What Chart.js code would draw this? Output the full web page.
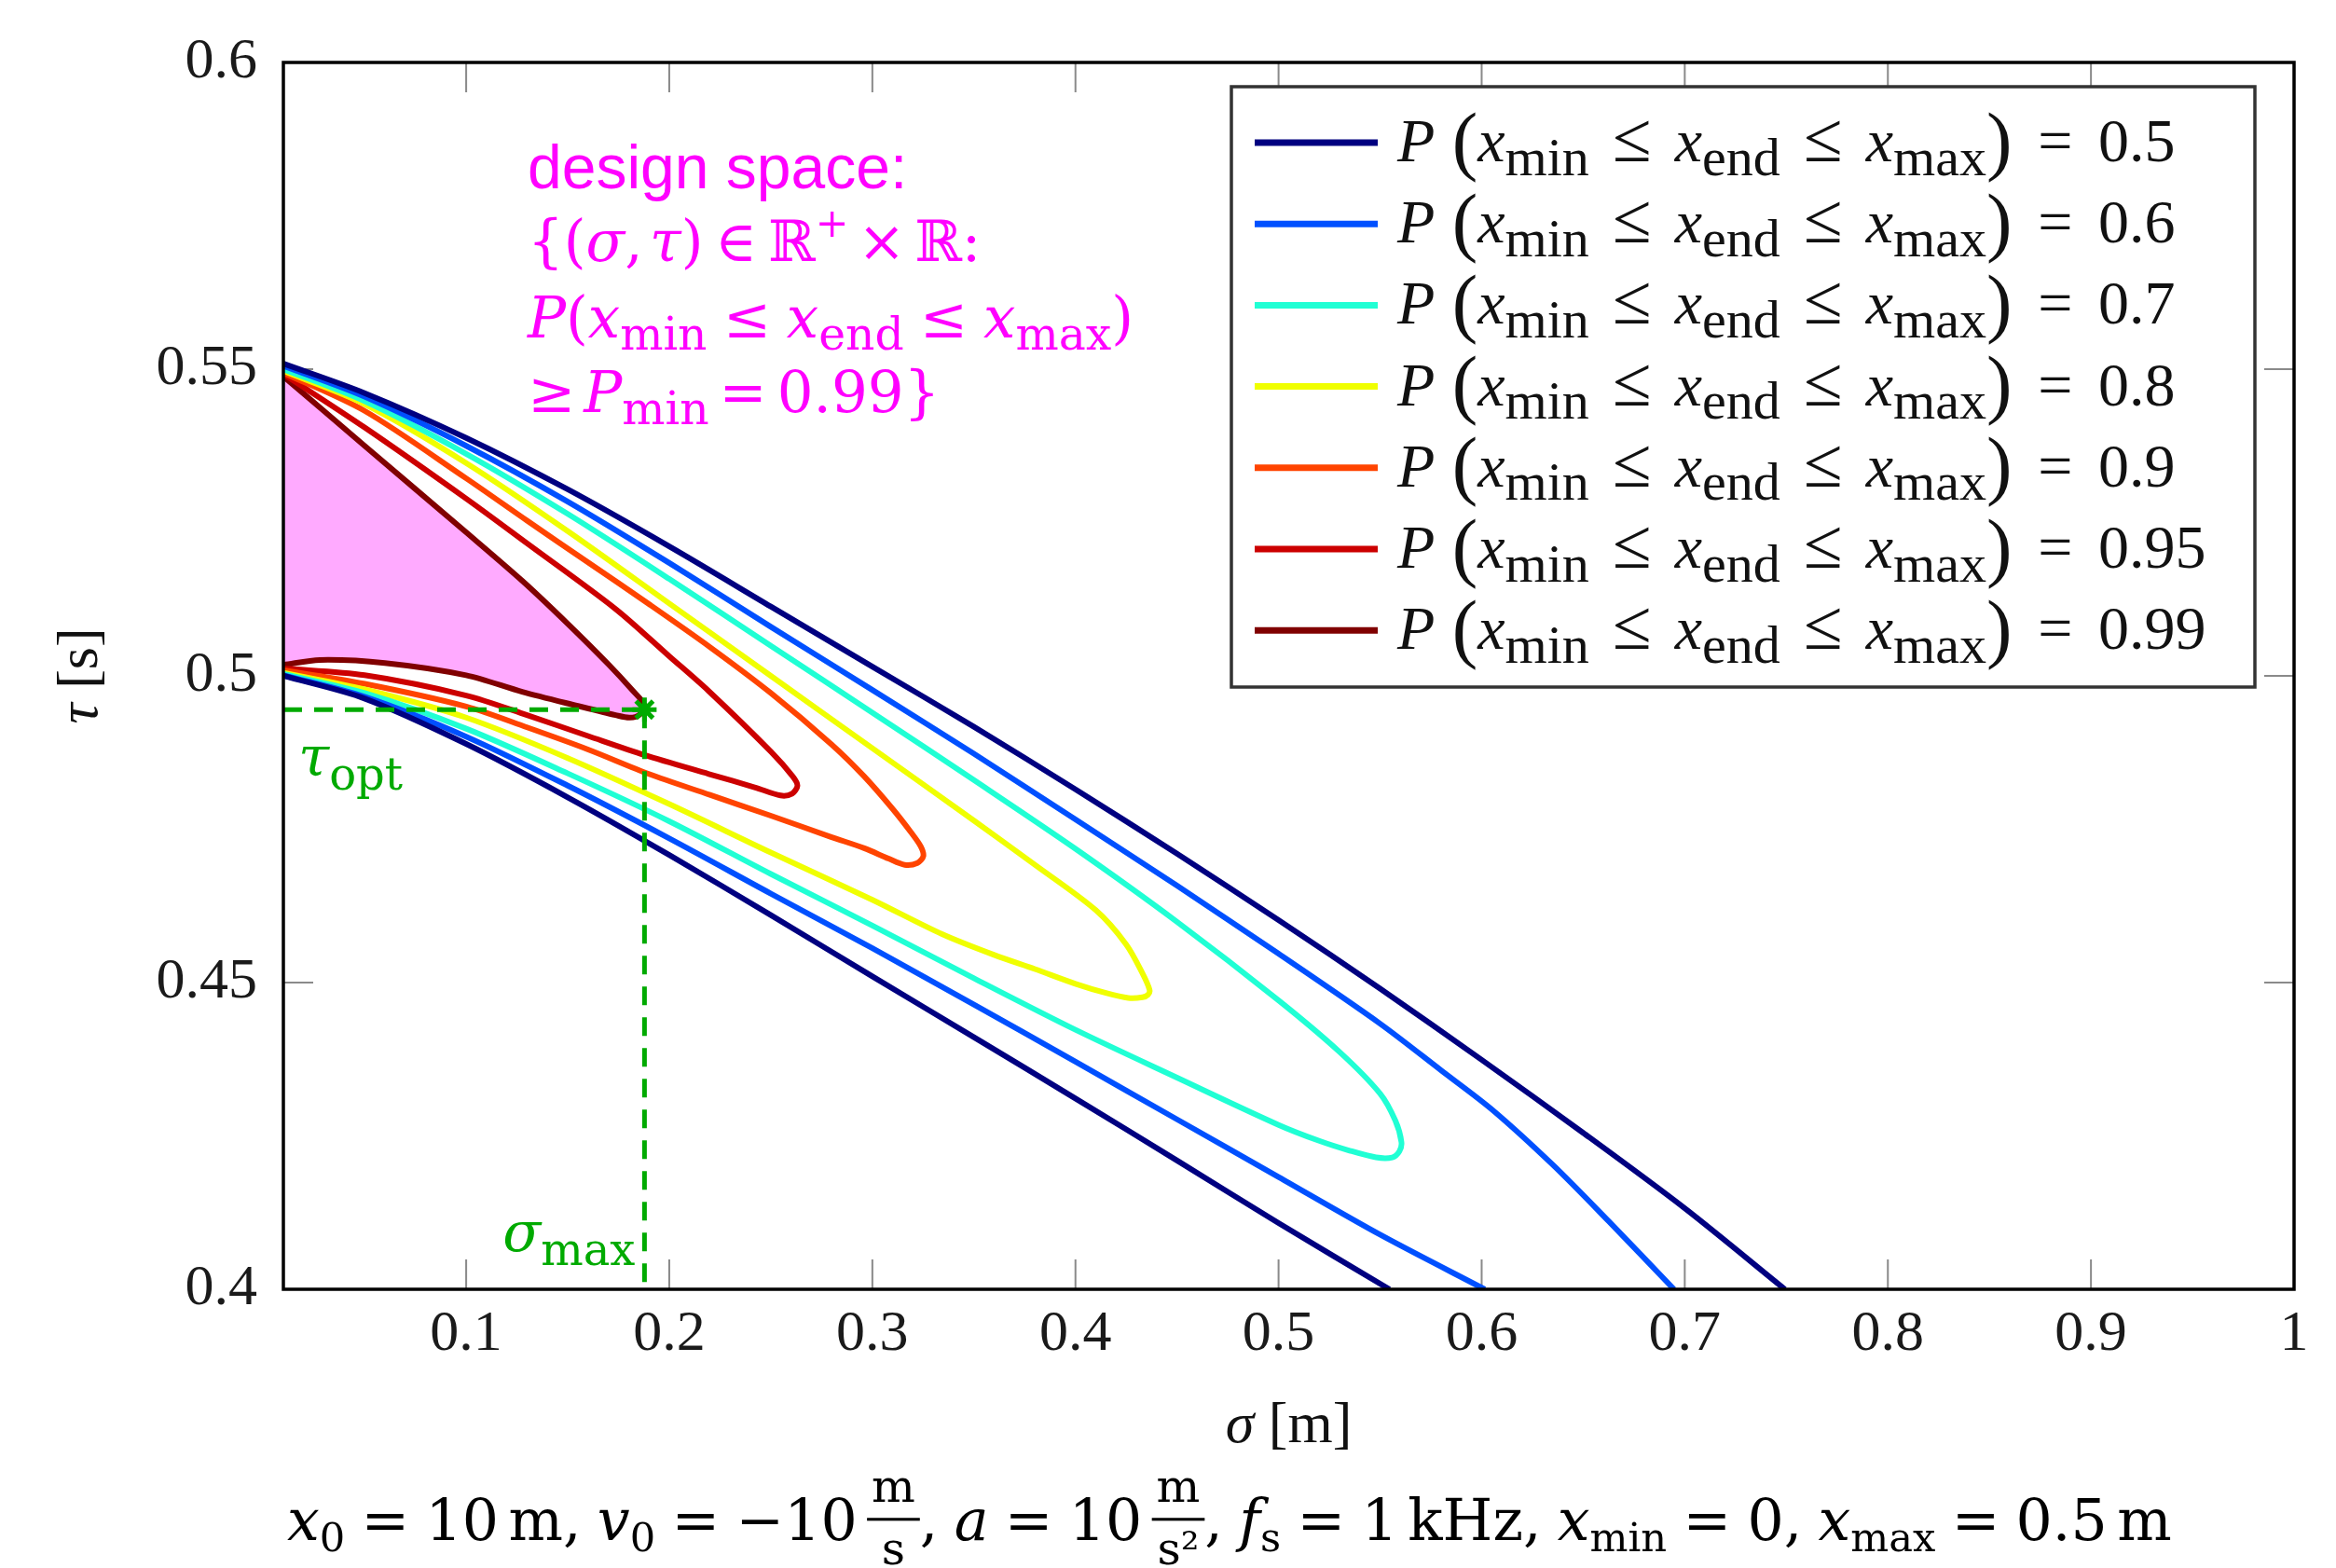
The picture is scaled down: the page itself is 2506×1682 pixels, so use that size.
<!DOCTYPE html>
<html>
<head>
<meta charset="utf-8">
<title>design space</title>
<script src="https://cdn.jsdelivr.net/npm/chart.js"></script>
<style>
  html, body { margin: 0; padding: 0; background: #fff; }
  canvas { display: block; }
</style>
</head>
<body>
<canvas id="chart" width="2506" height="1682"></canvas>
<script>
// contour levels P(xmin <= xend <= xmax)
var levels = [0.5, 0.6, 0.7, 0.8, 0.9, 0.95, 0.99];

// points, [sigma, tau]
var p50Upper = [[0.0101,0.5509],[0.05,0.5461],[0.1,0.5388],[0.15,0.5304],[0.2,0.5211],[0.25,0.5113],[0.3,0.5015],[0.35,0.4917],[0.4,0.4815],[0.45,0.471],[0.5,0.4602],[0.55,0.449],[0.6,0.4374],[0.65,0.4255],[0.7,0.4132],[0.7493,0.4]];
var p50Lower = [[0.0101,0.5],[0.05,0.4963],[0.1,0.4889],[0.15,0.4802],[0.2,0.4708],[0.25,0.461],[0.3,0.451],[0.35,0.4411],[0.4,0.4311],[0.45,0.421],[0.5,0.4108],[0.5546,0.4]];
var p60Upper = [[0.0101,0.5505],[0.05,0.5455],[0.1,0.5375],[0.15,0.5284],[0.2,0.5184],[0.25,0.508],[0.3,0.4977],[0.35,0.4873],[0.4,0.4766],[0.45,0.4658],[0.5,0.4547],[0.55,0.4433],[0.58,0.4357],[0.6051,0.4293],[0.635,0.4203],[0.6625,0.4111],[0.6947,0.4]];
var p60Lower = [[0.0101,0.5001],[0.05,0.4966],[0.1,0.4901],[0.15,0.4821],[0.2,0.4735],[0.25,0.4645],[0.3,0.4556],[0.35,0.4464],[0.4,0.4371],[0.45,0.4277],[0.5,0.4183],[0.55,0.4089],[0.6015,0.4]];
var p70Upper = [[0.0101,0.55],[0.05,0.5448],[0.1,0.5362],[0.15,0.5264],[0.2,0.5158],[0.25,0.5049],[0.3,0.494],[0.35,0.483],[0.4,0.4718],[0.45,0.4599],[0.5,0.4471],[0.53,0.4387],[0.55,0.4319],[0.5575,0.4275],[0.5605,0.424]];
var p70Lower = [[0.0101,0.5003],[0.05,0.4972],[0.1,0.4914],[0.15,0.4841],[0.2,0.4763],[0.25,0.4677],[0.3,0.4593],[0.35,0.4507],[0.4,0.4423],[0.45,0.4345],[0.5,0.4268],[0.52,0.4242],[0.535,0.4226],[0.548,0.4215],[0.556,0.4215],[0.5595,0.4225]];
var p80Upper = [[0.0101,0.5497],[0.05,0.5443],[0.1,0.5347],[0.15,0.5236],[0.2,0.5118],[0.25,0.5],[0.3,0.4882],[0.35,0.4764],[0.38,0.4692],[0.41,0.4618],[0.425,0.4562],[0.433,0.4515],[0.4365,0.4488]];
var p80Lower = [[0.0101,0.5005],[0.05,0.4978],[0.1,0.4932],[0.15,0.4866],[0.2,0.4791],[0.25,0.4712],[0.3,0.4635],[0.3343,0.4579],[0.36,0.4545],[0.38,0.4522],[0.4,0.4498],[0.415,0.4483],[0.426,0.4475],[0.433,0.4476],[0.4357,0.448]];
var p90Upper = [[0.0101,0.5494],[0.05,0.5432],[0.1,0.5322],[0.13,0.5253],[0.16,0.5185],[0.19,0.5117],[0.22,0.5047],[0.25,0.4972],[0.28,0.4888],[0.296,0.4836],[0.31,0.4783],[0.319,0.4745],[0.3238,0.4722],[0.3251,0.4706]];
var p90Lower = [[0.0101,0.5009],[0.05,0.4987],[0.1,0.495],[0.13,0.4916],[0.16,0.488],[0.19,0.484],[0.22,0.4806],[0.25,0.4772],[0.28,0.4737],[0.296,0.4719],[0.308,0.4702],[0.3159,0.4692],[0.3222,0.4695]];
var p95Upper = [[0.0101,0.5492],[0.05,0.5405],[0.1,0.5289],[0.13,0.5216],[0.1736,0.5109],[0.2,0.5032],[0.2195,0.4975],[0.2502,0.4876],[0.2608,0.4836],[0.2631,0.4821]];
var p95Lower = [[0.0101,0.5012],[0.05,0.5001],[0.1,0.4968],[0.13,0.4936],[0.16,0.4902],[0.1878,0.4871],[0.2195,0.484],[0.2424,0.4818],[0.2548,0.4805],[0.2605,0.4808]];
var p99Upper = [[0.0101,0.5488],[0.05,0.5375],[0.1,0.5234],[0.1276,0.5155],[0.15,0.5085],[0.17,0.5019],[0.182,0.4976],[0.1878,0.4952]];
var p99Lower = [[0.0101,0.5018],[0.028,0.5026],[0.06,0.5021],[0.1,0.5001],[0.1276,0.4974],[0.155,0.4951],[0.1736,0.4936],[0.1805,0.4932],[0.1855,0.4937]];

// optimum
var sigmaMax = 0.1878;
var tauOpt = 0.4945;

var xTicks = [0.1, 0.2, 0.3, 0.4, 0.5, 0.6, 0.7, 0.8, 0.9, 1];
var xTickLabels = ['0.1', '0.2', '0.3', '0.4', '0.5', '0.6', '0.7', '0.8', '0.9', '1'];
var yTicks = [0.4, 0.45, 0.5, 0.55, 0.6];
var yTickLabels = ['0.4', '0.45', '0.5', '0.55', '0.6'];

var lineColors = ['#000080', '#0050ff', '#20ffd4', '#f0ff00', '#ff4400', '#cc0000', '#800000'];
var green = '#00aa00';
var magenta = '#ff00ff';

var CM = '"Liberation Serif", serif';
var MATH = '"DejaVu Serif", serif';

function toXY(arr) {
  return arr.map(function (p) { return {x: p[0], y: p[1]}; });
}

var branches = [
  [p50Upper, p50Lower, true],
  [p60Upper, p60Lower, true],
  [p70Upper, p70Lower, false],
  [p80Upper, p80Lower, false],
  [p90Upper, p90Lower, false],
  [p95Upper, p95Lower, false],
  [p99Upper, p99Lower, false]
];

var datasets = [
  {data: toXY([[p99Upper[0][0] - 0.0001, tauOpt], [sigmaMax, tauOpt]]), borderColor: green, borderWidth: 5, borderDash: [20, 13], pointRadius: 0, tension: 0},
  {data: toXY([[sigmaMax, tauOpt], [sigmaMax, yTicks[0]]]), borderColor: green, borderWidth: 5, borderDash: [20, 13], pointRadius: 0, tension: 0},
  {data: toXY([[sigmaMax, tauOpt]]), showLine: false, pointStyle: 'star', pointRadius: 13, pointBorderWidth: 5, pointBorderColor: green, pointBackgroundColor: green}
];

branches.forEach(function (b, i) {
  var base = {
    label: 'P(x_min ≤ x_end ≤ x_max) = ' + levels[i],
    borderColor: lineColors[i],
    borderWidth: 6,
    pointRadius: 0,
    tension: 0.3,
    fill: false,
    level: levels[i]
  };
  if (b[2]) {
    datasets.push(Object.assign({}, base, {data: toXY(b[0])}));
    datasets.push(Object.assign({}, base, {data: toXY(b[1]), level: null}));
  } else {
    var loop = b[0].concat(b[1].slice().reverse());
    var ds = Object.assign({}, base, {data: toXY(loop)});
    if (levels[i] === 0.99) {
      ds.fill = 'shape';
      ds.backgroundColor = '#ffaaff';
    }
    datasets.push(ds);
  }
});

function fontOf(style, size, fam) {
  if (style === 'sans') return size + 'px "Liberation Sans", Arial, sans-serif';
  return (style === 'i' ? 'italic ' : '') + size + 'px ' + fam;
}

// draws text pieces (italic, subscripts, fractions) and returns width
function rich(ctx, parts, x, y, size, fam, draw) {
  var cx = x;
  parts.forEach(function (p) {
    cx += (p.g || 0) * size;
    var fs = size * (p.k || 1);
    if (p.frac) {
      ctx.font = fontOf('r', fs, fam);
      var wn = ctx.measureText(p.frac[0]).width;
      var wd = ctx.measureText(p.frac[1]).width;
      var w = Math.max(wn, wd) + 0.16 * size;
      if (draw) {
        var bar = y - 0.36 * size;
        ctx.fillRect(cx, bar - 0.025 * size, w, 0.05 * size);
        ctx.fillText(p.frac[0], cx + (w - wn) / 2, bar - 0.3 * size);
        ctx.fillText(p.frac[1], cx + (w - wd) / 2, bar + 0.78 * size);
      }
      cx += w;
      return;
    }
    ctx.font = fontOf(p.s || 'r', fs, fam);
    if (draw) ctx.fillText(p.t, cx, y + (p.dy || 0) * size);
    cx += ctx.measureText(p.t).width;
  });
  return cx - x;
}

function legendParts(level) {
  return [
    {t: 'P', s: 'i'},
    {t: '(', k: 1.25, g: 0.28, dy: 0.07},
    {t: 'x', s: 'i'}, {t: 'min', k: 0.88, dy: 0.22},
    {t: '≤', k: 1.15, g: 0.38}, {t: 'x', s: 'i', g: 0.38}, {t: 'end', k: 0.88, dy: 0.22},
    {t: '≤', k: 1.15, g: 0.38}, {t: 'x', s: 'i', g: 0.38}, {t: 'max', k: 0.88, dy: 0.22},
    {t: ')', k: 1.25, dy: 0.07},
    {t: '=', g: 0.42}, {t: String(level), g: 0.42}
  ];
}

var sub = function (t) { return {t: t, k: 0.8, dy: 0.22}; };

var designLines = [
  {y: 202, sans: true, parts: [{t: 'design space:', s: 'sans'}]},
  {y: 280, parts: [{t: '{'}, {t: '('}, {t: 'σ', s: 'i'}, {t: ','}, {t: 'τ', s: 'i', g: 0.12}, {t: ')'},
    {t: '∈', g: 0.2}, {t: 'ℝ', g: 0.2}, {t: '+', k: 0.7, dy: -0.42}, {t: '×', g: 0.16}, {t: 'ℝ', g: 0.16}, {t: ':'}]},
  {y: 362, parts: [{t: 'P', s: 'i'}, {t: '('}, {t: 'x', s: 'i'}, sub('min'), {t: '≤', g: 0.28},
    {t: 'x', s: 'i', g: 0.28}, sub('end'), {t: '≤', g: 0.28}, {t: 'x', s: 'i', g: 0.28}, sub('max'), {t: ')'}]},
  {y: 442, parts: [{t: '≥'}, {t: 'P', s: 'i', g: 0.15}, sub('min'), {t: '=', g: 0.18}, {t: '0.99', g: 0.18}, {t: '}'}]}
];

var s7 = function (t) { return {t: t, k: 0.7, dy: 0.2}; };
var caption = [
  {t: 'x', s: 'i'}, s7('0'), {t: '=', g: 0.28}, {t: '10', g: 0.28}, {t: 'm', g: 0.17}, {t: ','},
  {t: 'v', s: 'i', g: 0.28}, s7('0'), {t: '=', g: 0.28}, {t: '−10', g: 0.28}, {frac: ['m', 's'], k: 0.8, g: 0.17}, {t: ','},
  {t: 'a', s: 'i', g: 0.28}, {t: '=', g: 0.28}, {t: '10', g: 0.28}, {frac: ['m', 's²'], k: 0.8, g: 0.17}, {t: ','},
  {t: 'f', s: 'i', g: 0.28}, s7('s'), {t: '=', g: 0.28}, {t: '1', g: 0.28}, {t: 'kHz', g: 0.17}, {t: ','},
  {t: 'x', s: 'i', g: 0.28}, s7('min'), {t: '=', g: 0.28}, {t: '0', g: 0.28}, {t: ','},
  {t: 'x', s: 'i', g: 0.28}, s7('max'), {t: '=', g: 0.28}, {t: '0.5', g: 0.28}, {t: 'm', g: 0.17}
];

var whiteBg = {
  id: 'whiteBg',
  beforeDraw: function (chart) {
    var ctx = chart.ctx;
    ctx.save();
    ctx.fillStyle = '#fff';
    ctx.fillRect(0, 0, chart.width, chart.height);
    ctx.restore();
  }
};

var axesBox = {
  id: 'axesBox',
  beforeDatasetsDraw: function (chart) {
    var ctx = chart.ctx, a = chart.chartArea, x = chart.scales.x, y = chart.scales.y;
    ctx.save();
    ctx.strokeStyle = '#8a8a8a';
    ctx.lineWidth = 2;
    ctx.beginPath();
    xTicks.forEach(function (v) {
      var px = x.getPixelForValue(v);
      ctx.moveTo(px, a.bottom); ctx.lineTo(px, a.bottom - 32);
      ctx.moveTo(px, a.top); ctx.lineTo(px, a.top + 32);
    });
    yTicks.forEach(function (v) {
      var py = y.getPixelForValue(v);
      ctx.moveTo(a.left, py); ctx.lineTo(a.left + 32, py);
      ctx.moveTo(a.right, py); ctx.lineTo(a.right - 32, py);
    });
    ctx.stroke();
    ctx.restore();
  },
  afterDatasetsDraw: function (chart) {
    var ctx = chart.ctx, a = chart.chartArea;
    ctx.save();
    ctx.strokeStyle = '#000';
    ctx.lineWidth = 3.5;
    ctx.strokeRect(a.left, a.top, a.right - a.left, a.bottom - a.top);
    ctx.restore();
  }
};

var texts = {
  id: 'texts',
  afterDraw: function (chart) {
    var ctx = chart.ctx, a = chart.chartArea;
    ctx.save();

    // legend
    var bx = a.right - 1140, by = a.top + 26, bw = 1098, bh = 644;
    ctx.fillStyle = '#fff';
    ctx.fillRect(bx, by, bw, bh);
    ctx.strokeStyle = '#333';
    ctx.lineWidth = 3.5;
    ctx.strokeRect(bx, by, bw, bh);
    var row = 0;
    chart.data.datasets.forEach(function (ds) {
      if (!ds.level) return;
      var ly = by + 60 + row * 87.2;
      ctx.strokeStyle = ds.borderColor;
      ctx.lineWidth = 7;
      ctx.beginPath();
      ctx.moveTo(bx + 25, ly);
      ctx.lineTo(bx + 157, ly);
      ctx.stroke();
      ctx.fillStyle = '#111';
      rich(ctx, legendParts(ds.level), bx + 178, ly + 20, 66, CM, true);
      row++;
    });

    // design space annotation
    ctx.fillStyle = magenta;
    designLines.forEach(function (l) {
      rich(ctx, l.parts, 566, l.y, l.sans ? 66 : 61, MATH, true);
    });

    // optimum labels
    ctx.fillStyle = green;
    rich(ctx, [{t: 'τ', s: 'i'}, {t: 'opt', k: 0.8, dy: 0.25}], a.left + 16, 832, 60, MATH, true);
    var sm = [{t: 'σ', s: 'i'}, {t: 'max', k: 0.8, dy: 0.25}];
    var sw = rich(ctx, sm, 0, 0, 60, MATH, false);
    rich(ctx, sm, chart.scales.x.getPixelForValue(sigmaMax) - 10 - sw, 1342, 60, MATH, true);

    // axis titles
    ctx.fillStyle = '#111';
    var xt = [{t: 'σ', s: 'i'}, {t: '[m]', g: 0.25}];
    var xw = rich(ctx, xt, 0, 0, 62, CM, false);
    rich(ctx, xt, (a.left + a.right) / 2 - xw / 2, 1547, 62, CM, true);
    var yt = [{t: 'τ', s: 'i'}, {t: '[s]', g: 0.25}];
    var yw = rich(ctx, yt, 0, 0, 62, CM, false);
    ctx.translate(104, (a.top + a.bottom) / 2);
    ctx.rotate(-Math.PI / 2);
    rich(ctx, yt, -yw / 2, 0, 62, CM, true);
    ctx.setTransform(1, 0, 0, 1, 0, 0);

    // caption below the chart
    var cw = rich(ctx, caption, 0, 0, 66, MATH, false);
    var cs = Math.max(50, Math.min(80, 66 * 2022 / cw));
    ctx.fillStyle = '#000';
    rich(ctx, caption, 308, 1652, cs, MATH, true);

    ctx.restore();
  }
};

new Chart(document.getElementById('chart'), {
  type: 'line',
  data: {datasets: datasets},
  options: {
    responsive: false,
    animation: false,
    devicePixelRatio: 1,
    layout: {padding: {top: 67, right: 45, left: 0, bottom: 0}},
    plugins: {
      legend: {display: false},
      tooltip: {enabled: false},
      filler: {propagate: false}
    },
    scales: {
      x: {
        type: 'linear',
        min: 0.01,
        max: 1,
        afterBuildTicks: function (s) { s.ticks = xTicks.map(function (v) { return {value: v}; }); },
        afterFit: function (s) { s.height = 299; },
        grid: {display: false, drawTicks: false},
        border: {display: false},
        ticks: {
          callback: function (v, i) { return xTickLabels[i]; },
          font: {family: 'Liberation Serif', size: 62},
          color: '#1a1a1a',
          padding: 12,
          maxRotation: 0,
          autoSkip: false
        }
      },
      y: {
        type: 'linear',
        min: 0.4,
        max: 0.6,
        afterBuildTicks: function (s) { s.ticks = yTicks.map(function (v) { return {value: v}; }); },
        afterFit: function (s) { s.width = 304; },
        grid: {display: false, drawTicks: false},
        border: {display: false},
        ticks: {
          callback: function (v, i) { return yTickLabels[i]; },
          font: {family: 'Liberation Serif', size: 62},
          color: '#1a1a1a',
          padding: 28,
          autoSkip: false
        }
      }
    }
  },
  plugins: [whiteBg, axesBox, texts]
});
</script>
</body>
</html>
